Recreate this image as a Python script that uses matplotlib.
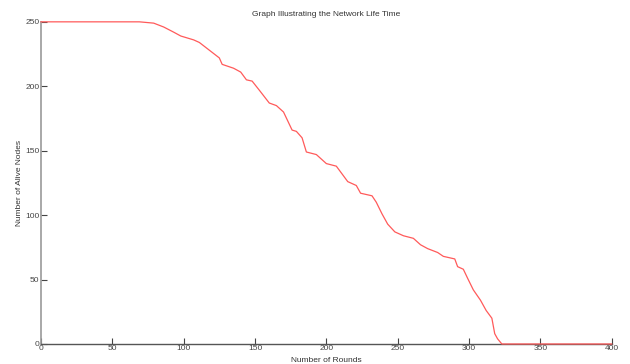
import numpy as np
import matplotlib.pyplot as plt

plt.rcParams['font.family'] = ['Liberation Sans', 'DejaVu Sans']

# rounds and alive nodes
rounds = [0, 69, 79, 86, 93, 98, 107, 111, 118, 125, 127, 135, 140, 144, 148,
          153, 160, 165, 170, 173, 176, 179, 183, 186, 193, 200, 207, 211, 215,
          221, 224, 232, 235, 239, 243, 248, 254, 261, 266, 271, 278, 282, 290,
          292, 296, 299, 303, 308, 312, 316, 318, 320, 323, 400]
alive = [250, 250, 249, 246, 242, 239, 236, 234, 228, 222, 217, 214, 211, 205, 204,
         197, 187, 185, 180, 173, 166, 165, 160, 149, 147, 140, 138, 132, 126,
         123, 117, 115, 110, 101, 93, 87, 84, 82, 77, 74, 71, 68, 66,
         60, 58, 51, 42, 34, 26, 20, 8, 4, 0, 0]

xticks = [0, 50, 100, 150, 200, 250, 300, 350, 400]
yticks = [0, 50, 100, 150, 200, 250]

fig = plt.figure(figsize=(6.3, 3.64), dpi=100)
ax = fig.add_axes([0.065, 0.055, 0.906, 0.885])

ax.plot(rounds, alive, color='#ff5a5a', lw=0.9, zorder=3, clip_on=False)

ax.set_xlim(0, 400)
ax.set_ylim(0, 250)
ax.set_xticks(xticks)
ax.set_yticks(yticks)
ax.tick_params(direction='in', length=4, width=0.8, labelsize=6,
               colors='#444444', pad=1)
for s in ['top', 'right']:
    ax.spines[s].set_visible(False)
ax.spines['left'].set_color('#999999')
ax.spines['left'].set_linewidth(1.2)
ax.spines['bottom'].set_color('#555555')
ax.spines['bottom'].set_linewidth(1.0)

ax.set_title('Graph Illustrating the Network Life Time', fontsize=6,
             color='#333333', pad=4)
ax.set_xlabel('Number of Rounds', fontsize=6, color='#333333', labelpad=3)
ax.set_ylabel('Number of Alive Nodes', fontsize=6, color='#333333', labelpad=2)

fig.savefig('out.png', dpi=100)
